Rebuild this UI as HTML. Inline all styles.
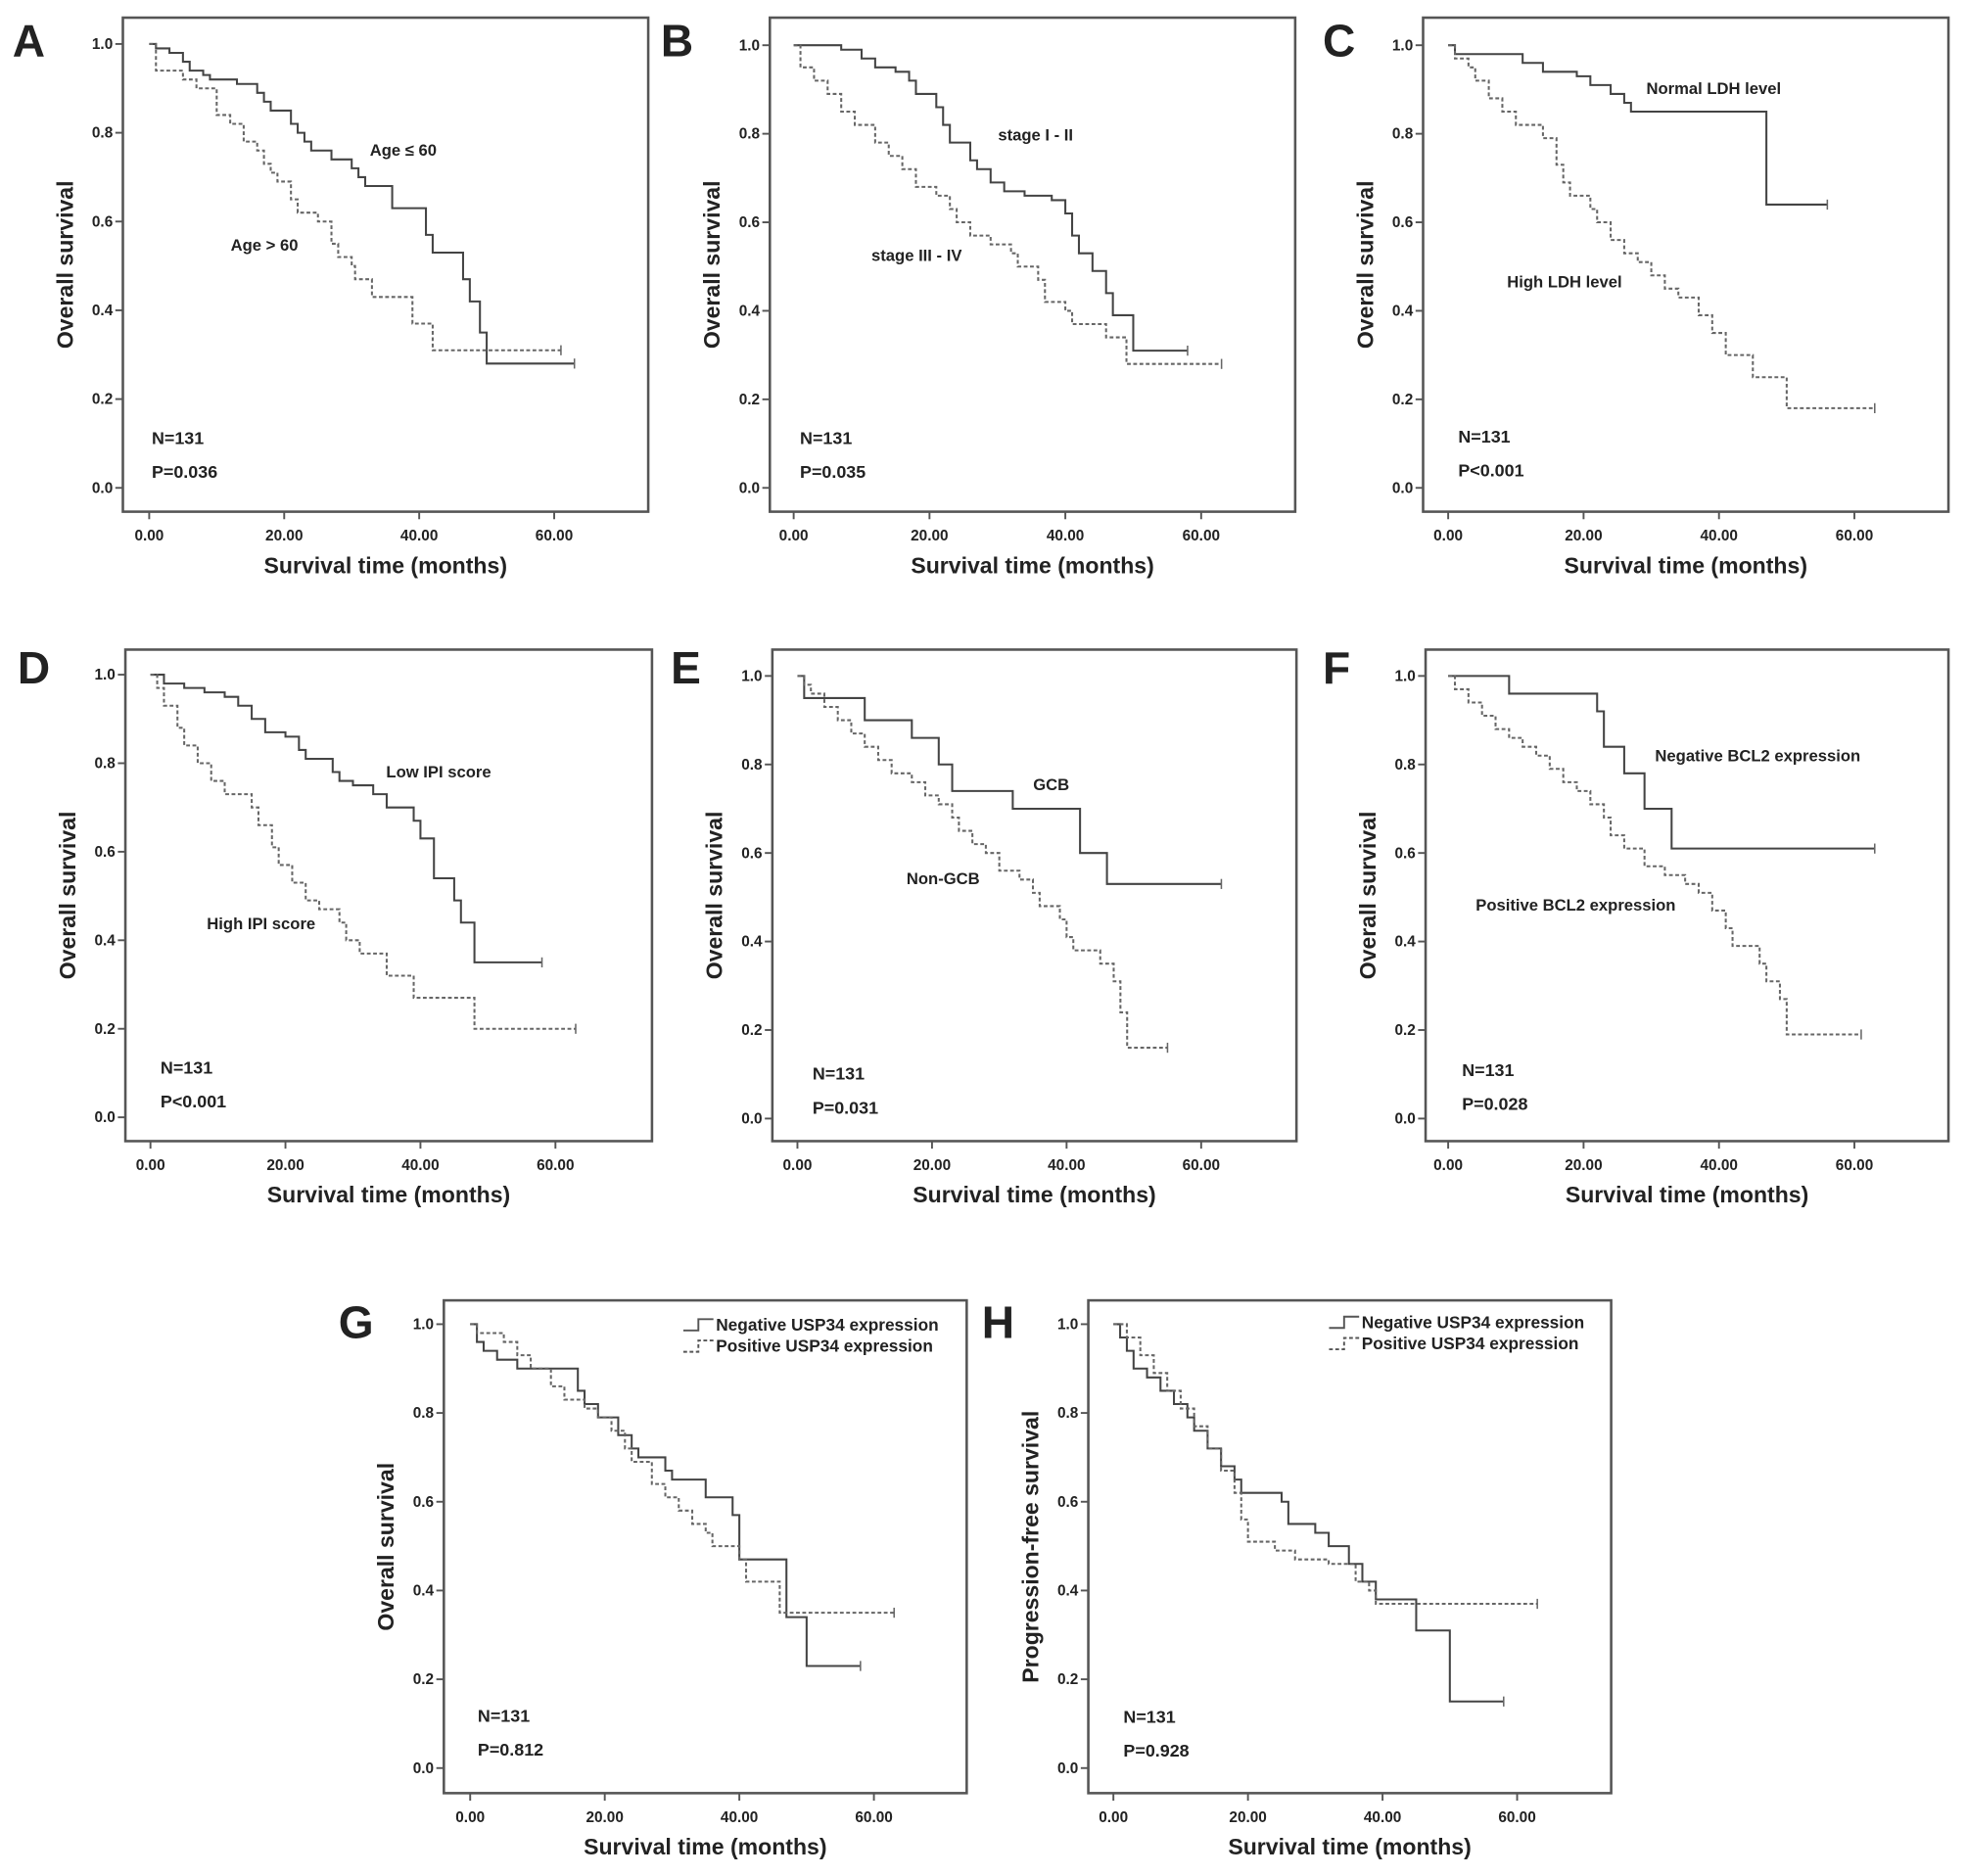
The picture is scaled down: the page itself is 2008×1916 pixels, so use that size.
<!DOCTYPE html>
<html><head><meta charset="utf-8"><style>
html,body{margin:0;padding:0;background:#fff}
svg{display:block}
text{font-family:"Liberation Sans",sans-serif;font-weight:bold;fill:#222}
</style></head><body>
<svg id="fig" width="2008" height="1916" viewBox="0 0 1568 1496" xmlns="http://www.w3.org/2000/svg"></svg>
<script>
// ---- data: [month, survival] step points; last entry = end of follow-up ----
const aSolid=[[0,1],[1,.99],[3,.98],[5,.96],[6,.94],[8,.93],[9,.92],[13,.91],[16,.89],[17,.87],[18,.85],[21,.82],[22,.8],[23,.78],[24,.76],[27,.74],[30,.72],[31,.7],[32,.68],[36,.63],[41,.57],[42,.53],[46.5,.47],[47.5,.42],[49,.35],[50,.28],[63,.28]];
const aDash=[[0,1],[1,.94],[5,.92],[7,.9],[10,.84],[12,.82],[14,.78],[16,.76],[17,.73],[18,.71],[19,.69],[21,.65],[22,.62],[25,.6],[27,.55],[28,.52],[30,.5],[30.5,.47],[33,.43],[39,.37],[42,.31],[61,.31]];
const bSolid=[[0,1],[7,.99],[10,.97],[12,.95],[15,.94],[17,.92],[18,.89],[21,.86],[22,.82],[23,.78],[26,.74],[27,.72],[29,.69],[31,.67],[34,.66],[38,.65],[40,.62],[41,.57],[42,.53],[44,.49],[46,.44],[47,.39],[50,.31],[58,.31]];
const bDash=[[0,1],[1,.95],[3,.92],[5,.89],[7,.85],[9,.82],[12,.78],[14,.75],[16,.72],[18,.68],[21,.66],[23,.63],[24,.6],[26,.57],[29,.55],[32,.53],[33,.5],[36,.47],[37,.42],[40,.4],[41,.37],[46,.34],[49,.28],[63,.28]];
const cSolid=[[0,1],[1,.98],[11,.96],[14,.94],[19,.93],[21,.91],[24,.89],[26,.87],[27,.85],[47,.64],[56,.64]];
const cDash=[[0,1],[1,.97],[3,.95],[4,.92],[6,.88],[8,.85],[10,.82],[14,.79],[16,.73],[17,.69],[18,.66],[21,.63],[22,.6],[24,.56],[26,.53],[28,.51],[30,.48],[32,.45],[34,.43],[37,.39],[39,.35],[41,.3],[45,.25],[50,.18],[63,.18]];
const dSolid=[[0,1],[2,.98],[5,.97],[8,.96],[11,.95],[13,.93],[15,.9],[17,.87],[20,.86],[22,.83],[23,.81],[27,.78],[28,.76],[30,.75],[33,.73],[35,.7],[39,.67],[40,.63],[42,.54],[45,.49],[46,.44],[48,.35],[58,.35]];
const dDash=[[0,1],[1,.97],[2,.93],[4,.88],[5,.84],[7,.8],[9,.76],[11,.73],[15,.7],[16,.66],[18,.61],[19,.57],[21,.53],[23,.49],[25,.47],[28,.44],[29,.4],[31,.37],[35,.32],[39,.27],[48,.2],[63,.2]];
const eSolid=[[0,1],[1,.95],[10,.9],[17,.86],[21,.8],[23,.74],[32,.7],[42,.6],[46,.53],[63,.53]];
const eDash=[[0,1],[1,.98],[2,.96],[4,.93],[6,.9],[8,.87],[10,.84],[12,.81],[14,.78],[17,.76],[19,.73],[21,.71],[23,.68],[24,.65],[26,.62],[28,.6],[30,.56],[33,.54],[35,.51],[36,.48],[39,.45],[40,.41],[41,.38],[45,.35],[47,.31],[48,.24],[49,.16],[55,.16]];
const fSolid=[[0,1],[9,.96],[22,.92],[23,.84],[26,.78],[29,.7],[33,.61],[63,.61]];
const fDash=[[0,1],[1,.97],[3,.94],[5,.91],[7,.88],[9,.86],[11,.84],[13,.82],[15,.79],[17,.76],[19,.74],[21,.71],[23,.68],[24,.64],[26,.61],[29,.57],[32,.55],[35,.53],[37,.51],[39,.47],[41,.43],[42,.39],[46,.35],[47,.31],[49,.27],[50,.19],[61,.19]];
const gSolid=[[0,1],[1,.96],[2,.94],[4,.92],[7,.9],[16,.85],[17,.82],[19,.79],[22,.75],[24,.72],[25,.7],[29,.67],[30,.65],[35,.61],[39,.57],[40,.47],[47,.34],[50,.23],[58,.23]];
const gDash=[[0,1],[1,.98],[5,.96],[7,.93],[9,.9],[12,.86],[14,.83],[17,.81],[19,.79],[21,.76],[23,.72],[24,.69],[27,.64],[29,.61],[31,.58],[33,.55],[35,.53],[36,.5],[40,.47],[41,.42],[46,.35],[63,.35]];
const hSolid=[[0,1],[1,.97],[2,.94],[3,.9],[5,.88],[7,.85],[9,.82],[11,.79],[12,.76],[14,.72],[16,.68],[18,.65],[19,.62],[25,.6],[26,.55],[30,.53],[32,.5],[35,.46],[37,.42],[39,.38],[45,.31],[50,.15],[58,.15]];
const hDash=[[0,1],[2,.97],[4,.93],[6,.89],[8,.85],[10,.81],[12,.77],[14,.72],[16,.67],[18,.62],[19,.56],[20,.51],[24,.49],[27,.47],[32,.46],[36,.42],[38,.4],[39,.37],[63,.37]];
const yTicks=[0,0.2,0.4,0.6,0.8,1.0];
const xTicks=[0,20,40,60];

const panels=[
 {id:'a',L:'A',lx:10,ly:45,fx:98,fy:14,fw:419,fh:394,x0:119,x60:442,y1:35,y0:389,s:aSolid,d:aDash,
  labels:[['Age ≤ 60',295,124],['Age > 60',184,200]],np:[121,354,'P=0.036']},
 {id:'b',L:'B',lx:527,ly:45,fx:614,fy:14,fw:419,fh:394,x0:633,x60:958,y1:36,y0:389,s:bSolid,d:bDash,
  labels:[['stage I - II',796,112],['stage III - IV',695,208]],np:[638,354,'P=0.035']},
 {id:'c',L:'C',lx:1055,ly:45,fx:1135,fy:14,fw:419,fh:394,x0:1155,x60:1479,y1:36,y0:389,s:cSolid,d:cDash,
  labels:[['Normal LDH level',1313,75],['High LDH level',1202,229]],np:[1163,353,'P<0.001']},
 {id:'d',L:'D',lx:14,ly:545,fx:100,fy:518,fw:420,fh:392,x0:120,x60:443,y1:538,y0:891,s:dSolid,d:dDash,
  labels:[['Low IPI score',308,620],['High IPI score',165,741]],np:[128,856,'P<0.001']},
 {id:'e',L:'E',lx:535,ly:545,fx:616,fy:518,fw:418,fh:392,x0:636,x60:958,y1:539,y0:892,s:eSolid,d:eDash,
  labels:[['GCB',824,630],['Non-GCB',723,705]],np:[648,861,'P=0.031']},
 {id:'f',L:'F',lx:1055,ly:545,fx:1137,fy:518,fw:417,fh:392,x0:1155,x60:1479,y1:539,y0:892,s:fSolid,d:fDash,
  labels:[['Negative BCL2 expression',1320,607],['Positive BCL2 expression',1177,726]],np:[1166,858,'P=0.028']},
 {id:'g',L:'G',lx:270,ly:1067,fx:354,fy:1037,fw:417,fh:393,x0:375,x60:697,y1:1056,y0:1410,s:gSolid,d:gDash,
  legend:[545,1056],np:[381,1373,'P=0.812'],ytitle:'Overall survival'},
 {id:'h',L:'H',lx:783,ly:1067,fx:868,fy:1037,fw:417,fh:393,x0:888,x60:1210,y1:1056,y0:1410,s:hSolid,d:hDash,
  legend:[1060,1054],np:[896,1374,'P=0.928'],ytitle:'Progression-free survival'}
];

const NS='http://www.w3.org/2000/svg';
const svg=document.getElementById('fig');
function mk(tag,attrs,parent,txt){const e=document.createElementNS(NS,tag);for(const k in attrs)e.setAttribute(k,attrs[k]);if(txt!==undefined)e.textContent=txt;parent.appendChild(e);return e;}

panels.forEach(p=>{
 const g=mk('g',{},svg);
 
 
 const X=t=>p.x0+(p.x60-p.x0)*t/60;
 const Y=v=>p.y0+(p.y1-p.y0)*v;
 const lt=mk('text',{x:p.lx,y:p.ly,'font-size':36},g,p.L);
 
 
 const fr=mk('rect',{x:p.fx,y:p.fy,width:p.fw,height:p.fh,fill:'none',stroke:'#555','stroke-width':2},g);
 
 
 yTicks.forEach(v=>{
  mk('line',{x1:p.fx-6,x2:p.fx,y1:Y(v),y2:Y(v),stroke:'#555','stroke-width':1.5},g);
  const t=mk('text',{x:p.fx-8,y:Y(v)+4,'font-size':12,'text-anchor':'end'},g,v.toFixed(1));
  
  
 });
 xTicks.forEach(v=>{
  mk('line',{x1:X(v),x2:X(v),y1:p.fy+p.fh,y2:p.fy+p.fh+6,stroke:'#555','stroke-width':1.5},g);
  const t=mk('text',{x:X(v),y:p.fy+p.fh+23,'font-size':12,'text-anchor':'middle'},g,v.toFixed(2));
  
  
 });
 const xt=mk('text',{x:p.fx+p.fw/2,y:p.fy+p.fh+49,'font-size':18,'text-anchor':'middle'},g,'Survival time (months)');
 
 
 const cy=(p.fy+p.fh/2);
 const yt=mk('text',{x:0,y:0,'font-size':18,'text-anchor':'middle',transform:`translate(${p.fx-40},${cy}) rotate(-90)`},g,p.ytitle||'Overall survival');
 
 
 [[p.s,'none','solid'],[p.d,'3,2','dashed']].forEach(([pts,dash,nm])=>{
  let d=`M${X(pts[0][0])},${Y(pts[0][1])}`;
  for(let i=1;i<pts.length;i++){d+=` H${X(pts[i][0])} V${Y(pts[i][1])}`;}
  const path=mk('path',{d:d,fill:'none',stroke:nm==='solid'?'#444':'#666','stroke-width':1.6,'stroke-dasharray':dash},g);
  
  
  const last=pts[pts.length-1];
  mk('line',{x1:X(last[0]),x2:X(last[0]),y1:Y(last[1])-4,y2:Y(last[1])+4,stroke:'#666','stroke-width':1.2},g);
 });
 if(p.labels)p.labels.forEach(l=>{
  const t=mk('text',{x:l[1],y:l[2],'font-size':13},g,l[0]);
  
  
 });
 if(p.legend){
  const [lx,ly]=p.legend;
  ['Negative USP34 expression','Positive USP34 expression'].forEach((s,i)=>{
   const yy=ly+i*17;
   mk('path',{d:`M${lx},${yy+5} H${lx+12} V${yy-4} H${lx+24}`,fill:'none',stroke:'#555','stroke-width':1.5,'stroke-dasharray':i?'3,2':'none'},g);
   const t=mk('text',{x:lx+26,y:yy+5,'font-size':13.5},g,s);
   
   
  });
 }
 const n=mk('text',{x:p.np[0],y:p.np[1],'font-size':14,'font-weight':'normal'},g,'N=131');
 
 
 const pv=mk('text',{x:p.np[0],y:p.np[1]+27,'font-size':14,'font-weight':'normal'},g,p.np[2]);
 
 
});
</script>
</body></html>
